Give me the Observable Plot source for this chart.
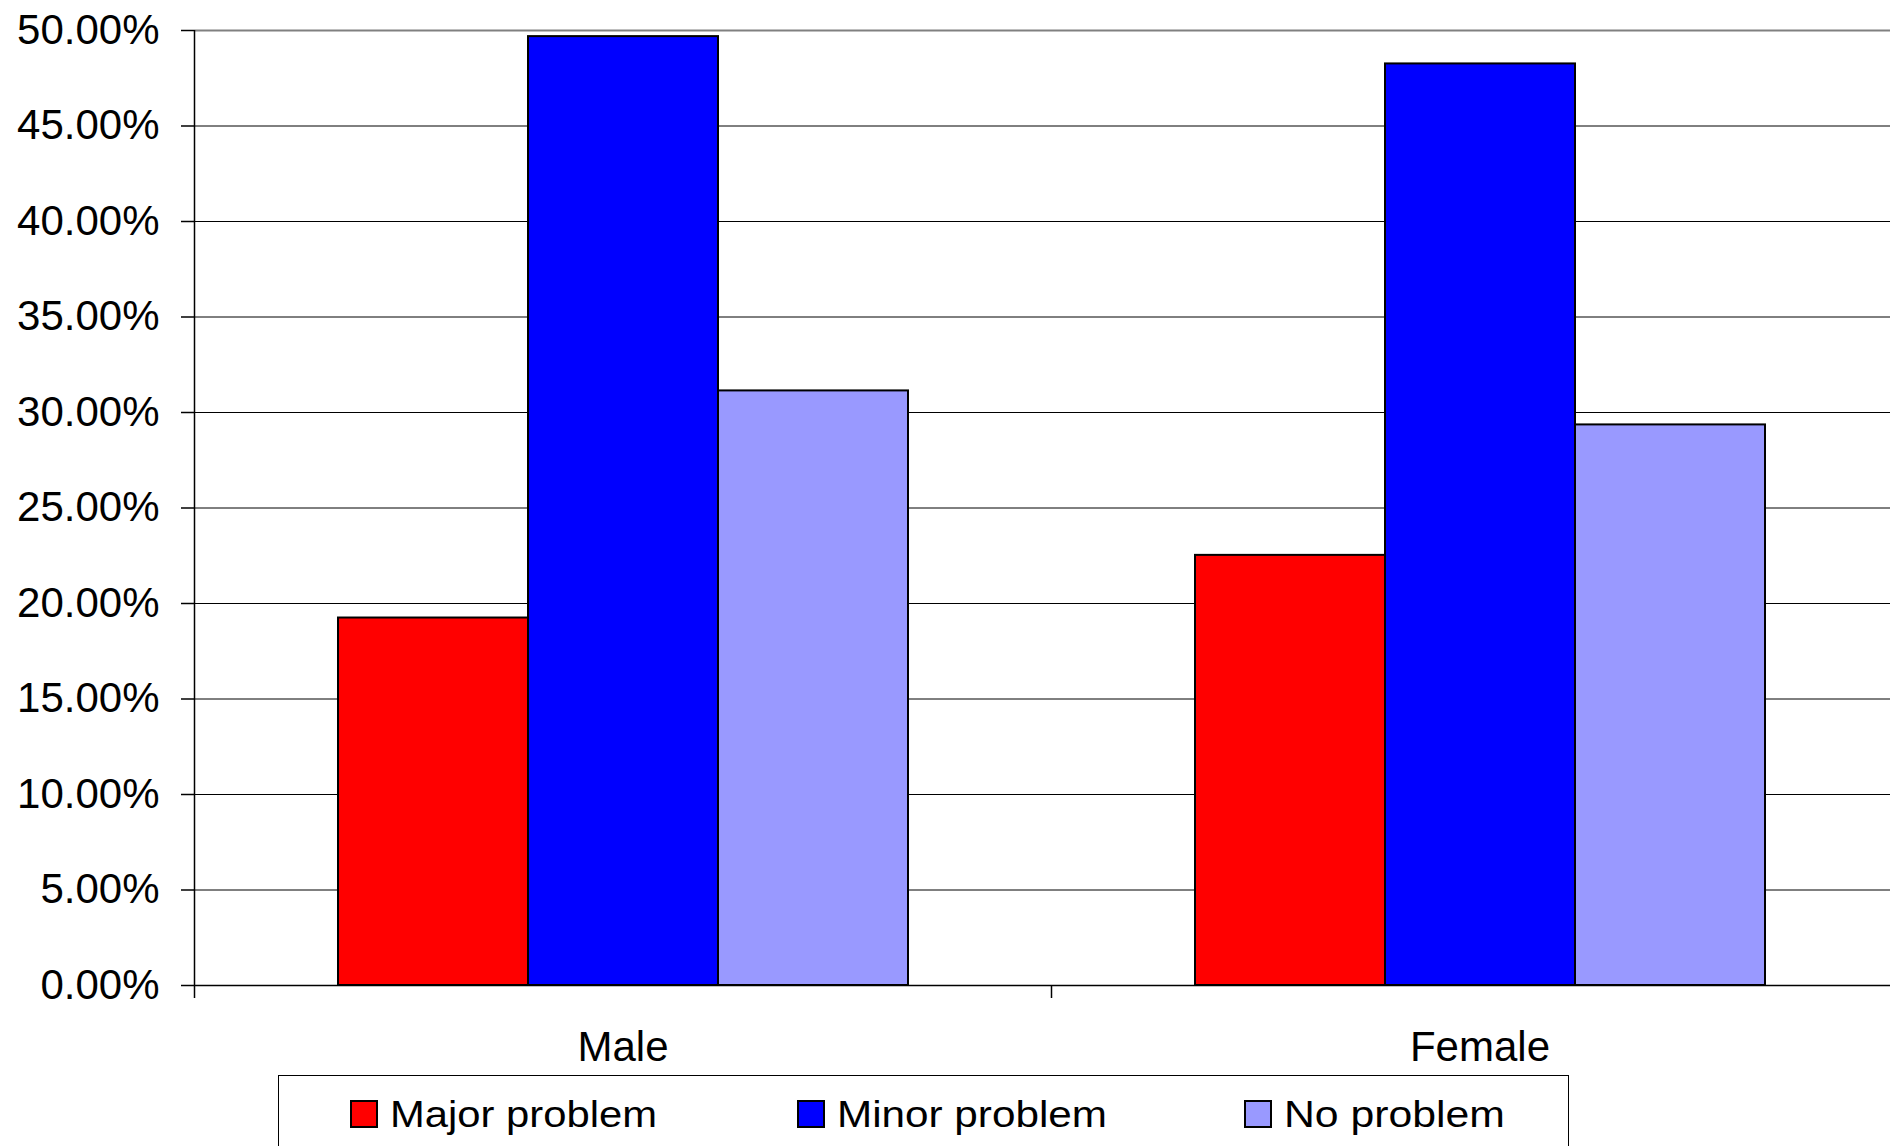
<!DOCTYPE html>
<html><head><meta charset="utf-8">
<script src="https://cdn.jsdelivr.net/npm/d3@7"></script>
<script src="https://cdn.jsdelivr.net/npm/@observablehq/plot@0.6"></script>
<style>
html,body{margin:0;padding:0;background:#fff;overflow:hidden;}
#wrap{width:1890px;height:1146px;overflow:hidden;position:relative;font-family:'Liberation Sans',Arial,sans-serif;background:#fff;}
#wrap svg{display:block;}
</style></head><body><div id="wrap"></div>
<script>
// ---- data ----
const categories = ["Male", "Female"];
const series = ["Major problem", "Minor problem", "No problem"];
const maleValues = [0.1924, 0.4968, 0.3113];
const femaleValues = [0.2252, 0.4825, 0.2935];
const seriesColors = ["#FF0000", "#0000FF", "#9999FF"];
const yTicks = [0, 0.05, 0.10, 0.15, 0.20, 0.25, 0.30, 0.35, 0.40, 0.45, 0.50];

const valuesByCategory = [maleValues, femaleValues];
const data = categories.flatMap((g, gi) =>
  series.map((s, si) => ({gender: g, series: s, value: valuesByCategory[gi][si]})));

// ---- layout ----
const W = 1908, H = 1075, mL = 194, mR = 0, mT = 30, mB = 90;
const step = (W - mL - mR) / categories.length;
const font = "'Liberation Sans', Arial, sans-serif";

const chart = Plot.plot({
  width: W, height: H,
  marginLeft: mL, marginRight: mR, marginTop: mT, marginBottom: mB,
  style: {fontFamily: font, fontSize: "42px", maxWidth: "none", background: "#fff", color: "#000"},
  fx: {domain: categories, padding: 0, axis: null, label: null},
  x: {domain: series, paddingInner: 0, paddingOuter: 0.7435, axis: null},
  y: {domain: [yTicks[0], yTicks[yTicks.length - 1]], axis: null},
  color: {domain: series, range: seriesColors},
  marks: [
    Plot.gridY(yTicks.slice(1, -1), {stroke: "#000", strokeOpacity: 1, strokeWidth: 1}),
    Plot.gridY(yTicks.slice(-1), {stroke: "#808080", strokeOpacity: 1, strokeWidth: 2}),
    Plot.barY(data, {fx: "gender", x: "series", y: "value", fill: "series", stroke: "#000", strokeWidth: 2}),
    Plot.ruleY(yTicks.slice(0, 1), {stroke: "#000", strokeWidth: 1.5}),
    Plot.gridFx(categories.slice(0, 1), {facetAnchor: "left", dx: -step / 2, stroke: "#000", strokeOpacity: 1, strokeWidth: 1.5}),
    Plot.axisFx({anchor: "bottom", fill: "none", tickSize: 13, dx: -step / 2, stroke: "#000", strokeWidth: 1.5, label: null}),
    Plot.axisFx({anchor: "bottom", tickSize: 0, tickPadding: 46, fontSize: 42, fill: "#000", label: null}),
    Plot.axisY(yTicks, {tickFormat: d3.format(".2%"), tickSize: 13, tickPadding: 22, fontSize: 42,
      stroke: "#000", fill: "#000", strokeWidth: 1.5, label: null})
  ]
});
document.getElementById("wrap").appendChild(chart);

// ---- legend (below the chart) ----
const legendLayout = {boxX: 278.5, boxW: 1290, swatchX: [351, 798, 1245], swatchY: 26, swatch: 26,
  textGap: 13, baseline: 52, fontSize: 37, textWidths: [267, 270, 221]};
const lg = d3.select("#wrap").append("svg")
  .attr("width", 1890).attr("height", 1146 - H)
  .style("font-family", font);
lg.append("rect").attr("x", legendLayout.boxX).attr("y", 0.5)
  .attr("width", legendLayout.boxW).attr("height", 200)
  .attr("fill", "#fff").attr("stroke", "#000").attr("stroke-width", 1);
series.forEach((s, i) => {
  const x = legendLayout.swatchX[i];
  lg.append("rect").attr("x", x).attr("y", legendLayout.swatchY)
    .attr("width", legendLayout.swatch).attr("height", legendLayout.swatch)
    .attr("fill", seriesColors[i]).attr("stroke", "#000").attr("stroke-width", 2);
  lg.append("text").attr("x", x + legendLayout.swatch + legendLayout.textGap)
    .attr("y", legendLayout.baseline)
    .attr("font-size", legendLayout.fontSize).attr("fill", "#000")
    .attr("textLength", legendLayout.textWidths[i]).attr("lengthAdjust", "spacingAndGlyphs")
    .text(s);
});
</script>
</body></html>
